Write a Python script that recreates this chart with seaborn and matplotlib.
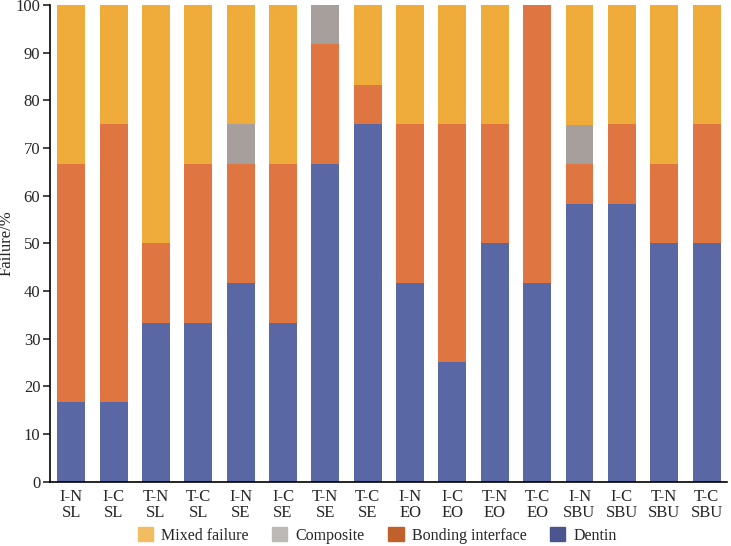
import numpy as np
import pandas as pd
import matplotlib
matplotlib.use("Agg")
import matplotlib.pyplot as plt
import matplotlib.patches as mpatches
import seaborn as sns

# Failure mode share (%) per group
groups = ["I-N\nSL", "I-C\nSL", "T-N\nSL", "T-C\nSL",
          "I-N\nSE", "I-C\nSE", "T-N\nSE", "T-C\nSE",
          "I-N\nEO", "I-C\nEO", "T-N\nEO", "T-C\nEO",
          "I-N\nSBU", "I-C\nSBU", "T-N\nSBU", "T-C\nSBU"]
dentin = [16.7, 16.7, 33.3, 33.3, 41.7, 33.3, 66.7, 75.0,
          41.7, 25.0, 50.0, 41.7, 58.3, 58.3, 50.0, 50.0]
bonding = [50.0, 58.3, 16.7, 33.3, 25.0, 33.3, 25.0, 8.3,
           33.3, 50.0, 25.0, 58.3, 8.3, 16.7, 16.7, 25.0]
composite = [0, 0, 0, 0, 8.3, 0, 8.3, 0,
             0, 0, 0, 0, 8.3, 0, 0, 0]
mixed = [33.3, 25.0, 50.0, 33.3, 25.0, 33.4, 0, 16.7,
         25.0, 25.0, 25.0, 0, 25.0, 25.0, 33.3, 25.0]

df = pd.DataFrame({"group": groups, "Dentin": dentin, "Bonding interface": bonding,
                   "Composite": composite, "Mixed failure": mixed})
df["c_dentin"] = df["Dentin"]
df["c_bond"] = df["c_dentin"] + df["Bonding interface"]
df["c_comp"] = df["c_bond"] + df["Composite"]
df["c_mixed"] = df["c_comp"] + df["Mixed failure"]

sns.set_style("ticks")
plt.rcParams["font.family"] = ["Liberation Serif", "DejaVu Serif"]

fig = plt.figure(figsize=(7.31, 5.46), dpi=100)
ax = fig.add_axes([0.0684, 0.118, 0.926, 0.873])

bar_colors = {"c_mixed": "#efac3b", "c_comp": "#a79f9b",
              "c_bond": "#df7642", "c_dentin": "#5a67a5"}
for col, colr in bar_colors.items():
    sns.barplot(data=df, x="group", y=col, color=colr, width=0.66,
                saturation=1, ax=ax, errorbar=None, linewidth=0)

ax.set_ylim(0, 100)
ax.set_xlim(-0.5, 15.48)
ax.set_yticks(range(0, 101, 10))
ax.set_xlabel("")
ax.set_ylabel("Failure/%", fontsize=12)
ax.yaxis.set_label_coords(-0.052, 0.5)
ax.tick_params(axis="y", labelsize=12, length=5, width=1.2, direction="out", pad=2)
ax.tick_params(axis="x", labelsize=12, length=0, pad=5)
for lbl in ax.get_xticklabels():
    lbl.set_linespacing(1.0)
for s in ["top", "right"]:
    ax.spines[s].set_visible(False)
for s in ["left", "bottom"]:
    ax.spines[s].set_linewidth(1.2)
    ax.spines[s].set_color("black")

handles = [mpatches.Patch(color="#f2bd60", label="Mixed failure"),
           mpatches.Patch(color="#bdb9b6", label="Composite"),
           mpatches.Patch(color="#c0602c", label="Bonding interface"),
           mpatches.Patch(color="#4b5691", label="Dentin")]
fig.legend(handles=handles, loc="lower center", bbox_to_anchor=(0.516, -0.022),
           ncol=4, frameon=False, fontsize=11.5, handlelength=0.95,
           handleheight=0.95, columnspacing=1.5, handletextpad=0.5)

fig.savefig("out.png", dpi=100)
